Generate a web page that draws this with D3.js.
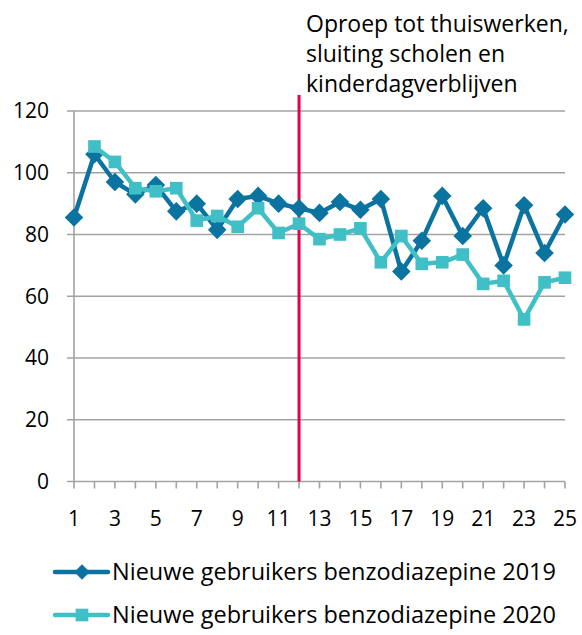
<!DOCTYPE html>
<html>
<head>
<meta charset="utf-8">
<script src="https://cdn.jsdelivr.net/npm/d3@7"></script>
<style>
  body { margin: 0; background: #fff; }
  text { font-family: "Open Sans", sans-serif; fill: #000; }
</style>
</head>
<body>
<div id="chart"></div>
<script>
// weeks 1..25
const weeks = d3.range(1, 26);
const values2019 = [85.5, 106, 97, 93, 96, 87.5, 90, 81.5, 91.5, 92.5, 90, 88.5,
  87, 90.5, 88, 91.5, 68, 78, 92.5, 79.5, 88.5, 70, 89.5, 74, 86.5];
const values2020 = [null, 108.5, 103.5, 95, 94, 95, 84.5, 86, 82.5, 88.5, 80.5, 83.5,
  78.5, 80, 82, 71, 79.5, 70.5, 71, 73.5, 64, 65, 52.5, 64.5, 66];
const yTicks = [0, 20, 40, 60, 80, 100, 120];
const xTickLabels = [1, 3, 5, 7, 9, 11, 13, 15, 17, 19, 21, 23, 25];
const seriesNames = ["Nieuwe gebruikers benzodiazepine 2019", "Nieuwe gebruikers benzodiazepine 2020"];
const markerWeek = 12;
const annotation = ["Oproep tot thuiswerken,", "sluiting scholen en", "kinderdagverblijven"];

const colDark = "#0b73a0", colLight = "#40c0c6", colRed = "#e2004f", colGrid = "#a3a3a3";

const W = 582, H = 635;
const svg = d3.select("#chart").append("svg").attr("width", W).attr("height", H);

const x = d3.scaleLinear().domain([1, 25]).range([74, 565]);
const y = d3.scaleLinear().domain([0, 120]).range([481.5, 111]);

// gridlines + y ticks
svg.append("g").selectAll("line")
  .data(yTicks).enter().append("line")
  .attr("x1", 67).attr("x2", 565)
  .attr("y1", d => y(d)).attr("y2", d => y(d))
  .style("stroke", colGrid).style("stroke-width", 1.6);

// y axis
svg.append("line")
  .attr("x1", 74).attr("x2", 74).attr("y1", y(120)).attr("y2", y(0))
  .style("stroke", colGrid).style("stroke-width", 1.6);

// x tick marks
svg.append("g").selectAll("line")
  .data(weeks).enter().append("line")
  .attr("x1", d => x(d)).attr("x2", d => x(d))
  .attr("y1", y(0)).attr("y2", y(0) + 7)
  .style("stroke", colGrid).style("stroke-width", 1.6);

// y labels
svg.append("g").selectAll("text")
  .data(yTicks).enter().append("text")
  .attr("x", 49).attr("y", d => y(d)).attr("dy", "0.35em")
  .attr("text-anchor", "end").style("font-size", "21px")
  .text(d => d);

// x labels
svg.append("g").selectAll("text")
  .data(xTickLabels).enter().append("text")
  .attr("x", d => x(d)).attr("y", 519).attr("dy", "0.35em")
  .attr("text-anchor", "middle").style("font-size", "21px")
  .text(d => d);

// red vertical line
svg.append("line")
  .attr("x1", x(markerWeek)).attr("x2", x(markerWeek))
  .attr("y1", 95).attr("y2", y(0))
  .style("stroke", colRed).style("stroke-width", 3);

// annotation
svg.append("g").selectAll("text")
  .data(annotation).enter().append("text")
  .attr("x", 306).attr("y", (d, i) => 32 + i * 30)
  .style("font-size", "23px")
  .text(d => d);

const line = d3.line()
  .defined(d => d.v != null)
  .x(d => x(d.w)).y(d => y(d.v));

function series(vals) { return vals.map((v, i) => ({ w: weeks[i], v: v })); }

const diamond = d3.symbol().type(d3.symbolDiamond2).size(220);
const square = d3.symbol().type(d3.symbolSquare).size(160);
const diamondLeg = d3.symbol().type(d3.symbolDiamond2).size(150);

const s2019 = series(values2019);
svg.append("path").attr("d", line(s2019))
  .style("fill", "none").style("stroke", colDark).style("stroke-width", 4.5)
  .style("stroke-linejoin", "round");
svg.append("g").selectAll("path")
  .data(s2019).enter().append("path")
  .attr("transform", d => `translate(${x(d.w)},${y(d.v)})`)
  .attr("d", diamond).style("fill", colDark);

const s2020 = series(values2020);
svg.append("path").attr("d", line(s2020))
  .style("fill", "none").style("stroke", colLight).style("stroke-width", 4.5)
  .style("stroke-linejoin", "round");
svg.append("g").selectAll("path")
  .data(s2020.filter(d => d.v != null)).enter().append("path")
  .attr("transform", d => `translate(${x(d.w)},${y(d.v)})`)
  .attr("d", square).style("fill", colLight);

// legend
const legend = svg.append("g").selectAll("g")
  .data(seriesNames).enter().append("g")
  .attr("transform", (d, i) => `translate(0,${572 + i * 43})`);
legend.append("line")
  .attr("x1", 55).attr("x2", 108).attr("y1", 0).attr("y2", 0)
  .style("stroke", (d, i) => i ? colLight : colDark).style("stroke-width", 4.5)
  .style("stroke-linecap", "round");
legend.append("path")
  .attr("transform", "translate(82,0)")
  .attr("d", (d, i) => i ? square() : diamondLeg())
  .style("fill", (d, i) => i ? colLight : colDark);
legend.append("text")
  .attr("x", 112).attr("y", 0).attr("dy", "0.35em")
  .style("font-size", "23.5px")
  .text(d => d);
</script>
</body>
</html>
